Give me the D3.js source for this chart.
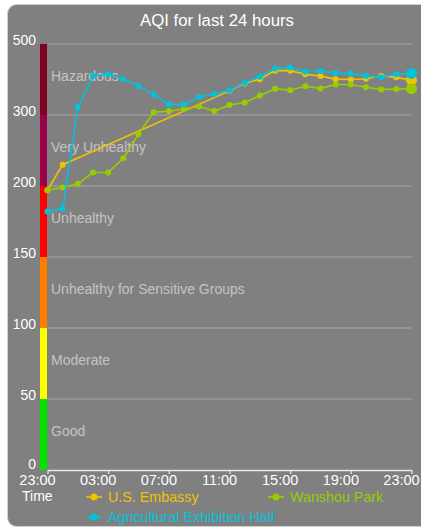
<!DOCTYPE html>
<html><head><meta charset="utf-8">
<script src="https://cdn.jsdelivr.net/npm/d3@7"></script>
<style>
html,body{margin:0;padding:0;background:#fff;}
svg{display:block;font-family:"Liberation Sans",Arial,Helvetica,sans-serif;}
</style></head>
<body>
<svg id="c" width="421" height="532"></svg>
<script>
// ---- data ----
const hours = ["23:00","00:00","01:00","02:00","03:00","04:00","05:00","06:00","07:00","08:00","09:00","10:00","11:00","12:00","13:00","14:00","15:00","16:00","17:00","18:00","19:00","20:00","21:00","22:00","23:00"];
const tickLabels = ["23:00","03:00","07:00","11:00","15:00","19:00","23:00"];
const usEmbassy = [197,230,null,null,null,null,null,null,null,null,null,null,368,389,401,425,425,415,410,401,400,402,410,406,398];
const wanshouPark = [197,199,203,219,219,239,273,308,311,317,324,311,328,335,355,374,370,381,375,386,386,378,372,373,374];
const agriHall = [182,184,322,410,415,401,382,358,330,330,351,359,370,391,408,431,434,422,424,418,417,410,406,415,417];
const seriesNames = ["U.S. Embassy","Wanshou Park","Agricultural Exhibition Hall"];
const seriesColors = ["#f2c200","#99cc00","#00c3dc"];
const bandBreaks = [0,50,100,150,200,300,500];
const bandNames = ["Good","Moderate","Unhealthy for Sensitive Groups","Unhealthy","Very Unhealthy","Hazardous"];
const bandColors = ["#00e400","#ffff00","#ff7e00","#ff0000","#99004c","#7e0023"];

const svg = d3.select("#c");
// background panel
svg.append("rect").attr("x",7.5).attr("y",4.5).attr("width",430).attr("height",522)
  .attr("rx",9).attr("fill","#808080").attr("stroke","#d0d0d0").attr("stroke-width",1);

const x0 = 47.5, x1 = 411.5, yTop = 44, yBot = 470;
const x = d3.scaleLinear().domain([0,24]).range([x0,x1]);
const bandH = (yBot - yTop) / 6;
const y = d3.scaleLinear().domain(bandBreaks).range(bandBreaks.map((d,i)=>yBot - i*bandH));

// title
svg.append("text").attr("x",217).attr("y",25.5).attr("text-anchor","middle")
  .attr("fill","#fff").attr("font-size",16.8).text("AQI for last 24 hours");

// gridlines
svg.append("g").selectAll("line").data(bandBreaks.slice(1)).join("line")
  .attr("x1",x0).attr("x2",x1).attr("y1",d=>y(d)).attr("y2",d=>y(d))
  .attr("stroke","#a8a8a8").attr("stroke-width",1);

// color bar
svg.append("g").selectAll("rect").data(bandColors).join("rect")
  .attr("x",40).attr("width",7)
  .attr("y",(d,i)=>y(bandBreaks[i+1])).attr("height",(d,i)=>y(bandBreaks[i])-y(bandBreaks[i+1]))
  .attr("fill",d=>d);

// band labels
svg.append("g").selectAll("text").data(bandNames).join("text")
  .attr("x",51).attr("y",(d,i)=>(y(bandBreaks[i])+y(bandBreaks[i+1]))/2+1.5)
  .attr("fill","#c4c4c4").attr("font-size",14).text(d=>d);

// y tick labels
svg.append("g").selectAll("text").data(bandBreaks).join("text")
  .attr("x",36).attr("y",d=>y(d)+(d===0?-1:0.5)).attr("text-anchor","end")
  .attr("fill","#fff").attr("font-size",14).text(d=>d);

// x axis
const xAxis = d3.axisBottom(x).tickValues([0,4,8,12,16,20,24])
  .tickFormat((d,i)=>tickLabels[i]).tickSize(4).tickSizeOuter(0);
const gx = svg.append("g").attr("transform",`translate(0,${yBot})`).call(xAxis);
gx.select(".domain").attr("stroke","#e8e8e8").attr("stroke-width",1.5);
gx.selectAll(".tick line").attr("stroke","#e8e8e8").attr("stroke-width",1.2);
gx.selectAll(".tick text").attr("fill","#fff").attr("font-size",14.5)
  .attr("font-family","Liberation Sans, Arial, sans-serif").attr("y",8).attr("dy","0.5em").attr("dx",-10.5);

svg.append("text").attr("x",22).attr("y",500.5).attr("fill","#fff").attr("font-size",14).text("Time");

// series
const allSeries = [usEmbassy, wanshouPark, agriHall];
const line = d3.line().x(d=>x(d.i)).y(d=>y(d.v));
allSeries.forEach((s,k)=>{
  const pts = s.map((v,i)=>({i,v})).filter(d=>d.v!==null);
  const g = svg.append("g");
  g.append("path").attr("d",line(pts)).attr("fill","none")
    .attr("stroke",seriesColors[k]).attr("stroke-width",1.6);
  g.selectAll("circle").data(pts).join("circle")
    .attr("cx",d=>x(d.i)).attr("cy",d=>y(d.v))
    .attr("r",(d,j)=>j===pts.length-1?5.5:3).attr("fill",seriesColors[k]);
});

// legend
const legendPos = [[86,497],[268,497],[86,517]];
seriesNames.forEach((n,k)=>{
  const [lx,ly] = legendPos[k];
  const g = svg.append("g");
  g.append("line").attr("x1",lx).attr("x2",lx+16).attr("y1",ly).attr("y2",ly)
    .attr("stroke",seriesColors[k]).attr("stroke-width",1.6);
  g.append("circle").attr("cx",lx+8).attr("cy",ly).attr("r",3.5).attr("fill",seriesColors[k]);
  g.append("text").attr("x",lx+22).attr("y",ly+5).attr("fill",seriesColors[k])
    .attr("font-size",14.3).text(n);
});
</script>
</body></html>
